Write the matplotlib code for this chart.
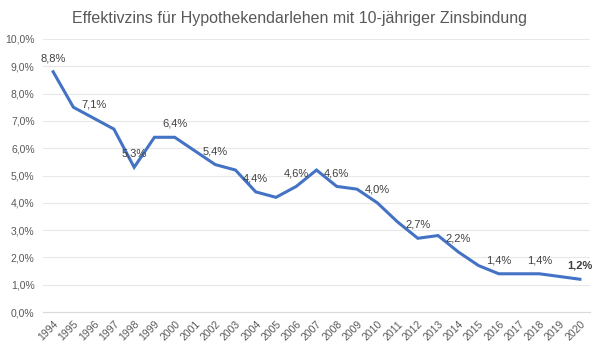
import matplotlib
matplotlib.use("Agg")
import matplotlib.pyplot as plt
from matplotlib.ticker import FuncFormatter

plt.rcParams['font.family'] = ['Liberation Sans', 'DejaVu Sans']

years = [str(y) for y in range(1994, 2021)]
values = [8.8, 7.5, 7.1, 6.7, 5.3, 6.4, 6.4, 5.9, 5.4, 5.2, 4.4, 4.2, 4.6, 5.2, 4.6, 4.5,
          4.0, 3.3, 2.7, 2.8, 2.2, 1.7, 1.4, 1.4, 1.4, 1.3, 1.2]
label_years = ['1994', '1996', '1998', '2000', '2002', '2004', '2006', '2008', '2010',
               '2012', '2014', '2016', '2018', '2020']
title = "Effektivzins für Hypothekendarlehen mit 10-jähriger Zinsbindung"

fig = plt.figure(figsize=(6, 3.49), dpi=100)
ax = fig.add_axes([43/600, 1-312/349, 547/600, 273/349])
x = list(range(len(years)))
ax.plot(x, values, color='#4472C4', lw=2.2, solid_joinstyle='miter', zorder=3)

txtc = '#595959'
for yr in label_years:
    i = years.index(yr)
    bold = yr == '2020'
    ax.annotate(f"{values[i]:.1f}%".replace('.', ','), (i, values[i]), xytext=(0, 6),
                textcoords='offset points', ha='center', va='bottom', fontsize=8,
                color='#404040', fontweight='bold' if bold else 'normal', zorder=4)

ax.set_xlim(-0.5, len(years) - 0.5)
ax.set_ylim(0, 10)
ax.set_yticks([i for i in range(11)])
ax.yaxis.set_major_formatter(FuncFormatter(lambda v, p: f"{v:.1f}%".replace('.', ',')))
ax.set_xticks(x)
ax.set_xticklabels(years, rotation=45, ha='right', rotation_mode='anchor')
ax.tick_params(axis='both', length=0, labelsize=7.5, colors=txtc)
ax.tick_params(axis='x', pad=5)
ax.tick_params(axis='y', pad=6)
ax.grid(axis='y', color='#E8E8E8', lw=0.8)
for s in ['top', 'right', 'left']:
    ax.spines[s].set_visible(False)
ax.spines['bottom'].set_color('#D9D9D9')
ax.set_axisbelow(True)
fig.text(0.5, 1 - 18/349, title, ha='center', va='center', fontsize=11.5, color=txtc)
fig.savefig('out.png', dpi=100)
